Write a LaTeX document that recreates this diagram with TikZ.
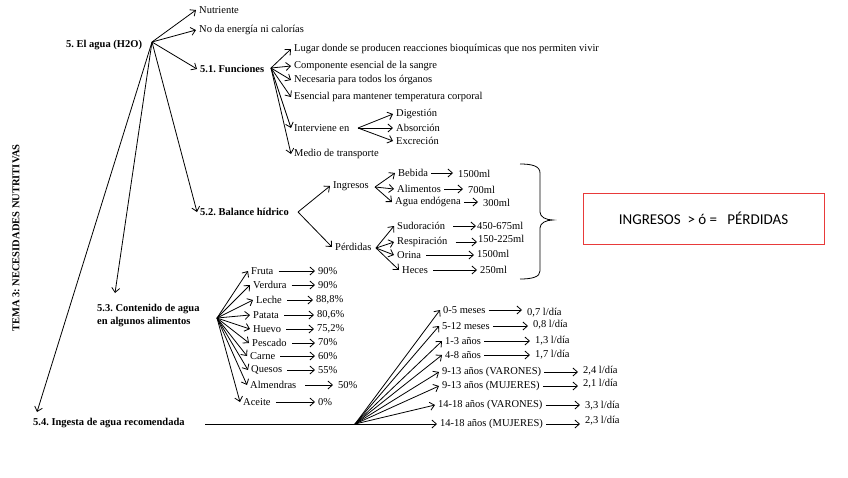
\documentclass[tikz,border=0pt]{standalone}
\usepackage{fontspec}
\setmainfont{Liberation Serif}
\newfontfamily\boxfont{Carlito}
\usetikzlibrary{arrows.meta}
\definecolor{boxred}{RGB}{232,58,58}
\frenchspacing
\begin{document}
\begin{tikzpicture}[x=1pt,y=-1pt,
  txt/.style={anchor=west,inner xsep=3pt,inner ysep=1pt,xshift=-3pt,font=\fontsize{10.5}{12}\selectfont},
  hd/.style={txt,font=\fontsize{10.5}{13}\selectfont\bfseries},
  arr/.style={-{Straight Barb[length=4.5pt,width=8pt]},line width=0.8pt},
  harr/.style={arr,shorten >=2pt},
  ln/.style={line width=0.8pt}]
\useasboundingbox (0,0) rectangle (848,477);

% title
\node[rotate=90,font=\fontsize{10.5}{12}\selectfont\bfseries,inner sep=0pt] (title) at (16,238) {TEMA 3: NECESIDADES NUTRITIVAS};

% 5. El agua
\node[hd] (agua) at (66,45) {5. El agua (H2O)};
\coordinate (o0) at (152,42);
\node[txt] (nut) at (199,10) {Nutriente};
\node[txt] (noda) at (199,30) {No da energía ni calorías};
\node[hd] (fun) at (200,69) {5.1. Funciones};
\draw[arr] (o0) -- (nut.west);
\draw[arr] (o0) -- (noda.west);
\draw[arr] (o0) -- (fun.west);

% 5.1 funciones
\coordinate (of) at (271,68);
\node[txt] (lug) at (294,49) {Lugar donde se producen reacciones bioquímicas que nos permiten vivir};
\node[txt] (comp) at (294,66) {Componente esencial de la sangre};
\node[txt] (nec) at (294,80) {Necesaria para todos los órganos};
\node[txt] (esen) at (294,97) {Esencial para mantener temperatura corporal};
\node[txt] (int) at (294,128) {Interviene en};
\node[txt] (med) at (294,154) {Medio de transporte};
\foreach \n in {lug,comp,nec,esen,int,med} \draw[arr] (of) -- (\n.west);
\coordinate (oi) at (358,128);
\node[txt] (dig) at (396,114) {Digestión};
\node[txt] (abs) at (396,128) {Absorción};
\node[txt] (exc) at (396,141) {Excreción};
\foreach \n in {dig,abs,exc} \draw[arr] (oi) -- (\n.west);

% 5.2 balance
\node[hd] (bal) at (200,212) {5.2. Balance hídrico};
\draw[arr] (o0) -- (bal.west);
\coordinate (ob) at (298,212);
\node[txt] (ing) at (333,186) {Ingresos};
\node[txt] (per) at (335,247) {Pérdidas};
\draw[arr] (ob) -- (ing.west);
\draw[arr] (ob) -- (per.west);
\coordinate (oin) at (375,187);
\node[txt] (beb) at (398,173) {Bebida};
\node[txt] (ali) at (397,189) {Alimentos};
\node[txt] (aen) at (395,202) {Agua endógena};
\foreach \n in {beb,ali,aen} \draw[arr] (oin) -- (\n.west);
\node[txt] (vbeb) at (458,174) {1500ml};
\node[txt] (vali) at (468,190) {700ml};
\node[txt] (vaen) at (483,203) {300ml};
\draw[harr] (beb.east) -- (beb.east -| vbeb.west);
\draw[harr] (ali.east) -- (ali.east -| vali.west);
\draw[harr] (aen.east) -- (aen.east -| vaen.west);
\coordinate (oper) at (376,248);
\node[txt] (sud) at (397,226) {Sudoración};
\node[txt] (res) at (397,242) {Respiración};
\node[txt] (ori) at (397,255) {Orina};
\node[txt] (hec) at (402,270) {Heces};
\foreach \n in {sud,res,ori,hec} \draw[arr] (oper) -- (\n.west);
\node[txt] (vsud) at (477,226) {450-675ml};
\node[txt] (vres) at (478,239) {150-225ml};
\node[txt] (vori) at (477,254) {1500ml};
\node[txt] (vhec) at (480,270) {250ml};
\draw[harr,shorten >=3pt] ([xshift=5pt]sud.east) -- ([xshift=5pt]sud.east -| vsud.west);
\draw[harr,shorten >=3pt] ([xshift=5pt]res.east) -- ([xshift=5pt]res.east -| vres.west);
\draw[harr] ([xshift=2pt]ori.east) -- ([xshift=2pt]ori.east -| vori.west);
\draw[harr] ([xshift=2pt]hec.east) -- ([xshift=2pt]hec.east -| vhec.west);

% brace and box
\draw[ln] (520,164) .. controls (532,164) and (540,166) .. (540,173) -- (540,212)
  .. controls (540,217) and (546,220) .. (553,220)
  .. controls (546,220) and (540,223) .. (540,228) -- (540,271)
  .. controls (540,277) and (532,279) .. (520,279);
\node[draw=boxred,line width=0.8pt,minimum width=241pt,minimum height=51pt,inner sep=0pt,
  font=\boxfont\fontsize{15}{17}\selectfont] (box) at (703.5,218.5) {INGRESOS\ \ > ó =\ \ \ PÉRDIDAS};

% 5.3 contenido
\node[hd,align=left] (c53) at (97,315.5) {5.3. Contenido de agua\\en algunos alimentos};
\draw[arr] (o0) -- ([xshift=21pt,yshift=10pt]c53.north west);
\coordinate (oc) at (217,318);
\node[txt] (fru) at (251,271) {Fruta};
\node[txt] (ver) at (253,285) {Verdura};
\node[txt] (lec) at (256,300) {Leche};
\node[txt] (pat) at (253,315) {Patata};
\node[txt] (hue) at (253,329) {Huevo};
\node[txt] (pes) at (252,343) {Pescado};
\node[txt] (car) at (250,356) {Carne};
\node[txt] (que) at (251,370) {Quesos};
\node[txt] (alm) at (250,385) {Almendras};
\node[txt] (ace) at (243,402) {Aceite};
\foreach \n in {fru,ver,lec,pat,hue,pes,car,que,alm,ace} \draw[arr] (oc) -- (\n.west);
\node[txt] (pfru) at (318,271) {90\%};
\node[txt] (pver) at (318,285) {90\%};
\node[txt] (plec) at (316,300) {88,8\%};
\node[txt] (ppat) at (317,315) {80,6\%};
\node[txt] (phue) at (317,329) {75,2\%};
\node[txt] (ppes) at (318,342) {70\%};
\node[txt] (pcar) at (318,356) {60\%};
\node[txt] (pque) at (318,370) {55\%};
\node[txt] (palm) at (338,385) {50\%};
\node[txt] (pace) at (318,402) {0\%};
\foreach \a/\b in {fru/pfru,ver/pver,lec/plec,pat/ppat,hue/phue,pes/ppes,car/pcar,que/pque,ace/pace}
  \draw[harr] ([xshift=2pt]\a.east) -- ([xshift=2pt]\a.east -| \b.west);
\draw[harr,shorten >=8pt] ([xshift=6pt]alm.east) -- ([xshift=6pt]alm.east -| palm.west);

% 5.4 ingesta
\node[hd] (c54) at (33,423) {5.4. Ingesta de agua recomendada};
\draw[arr] (o0) -- ([xshift=7pt,yshift=5pt]c54.north west);
\coordinate (l0) at (205,424);
\coordinate (oa) at (355,424);
\draw[ln] (l0) -- (oa);
\node[txt] (a1) at (443,310) {0-5 meses};
\node[txt] (a2) at (442,326) {5-12 meses};
\node[txt] (a3) at (445,341) {1-3 años};
\node[txt] (a4) at (445,355) {4-8 años};
\node[txt] (a5) at (442,372) {9-13 años (VARONES)};
\node[txt] (a6) at (442,386) {9-13 años (MUJERES)};
\node[txt] (a7) at (438,405) {14-18 años (VARONES)};
\node[txt] (a8) at (440,424) {14-18 años (MUJERES)};
\foreach \n in {a1,a2,a3,a4,a5,a6,a7,a8} \draw[arr] (oa) -- (\n.west);
\node[txt] (v1) at (527,313) {0,7 l/día};
\node[txt] (v2) at (533,325) {0,8 l/día};
\node[txt] (v3) at (535,341) {1,3 l/día};
\node[txt] (v4) at (535,355) {1,7 l/día};
\node[txt] (v5) at (583,371) {2,4 l/día};
\node[txt] (v6) at (583,384) {2,1 l/día};
\node[txt] (v7) at (585,406) {3,3 l/día};
\node[txt] (v8) at (585,421) {2,3 l/día};
\foreach \a/\b in {a1/v1,a2/v2,a3/v3,a4/v4,a5/v5,a6/v6,a7/v7,a8/v8}
  \draw[harr] (\a.east) -- (\a.east -| \b.west);
\end{tikzpicture}
\end{document}
